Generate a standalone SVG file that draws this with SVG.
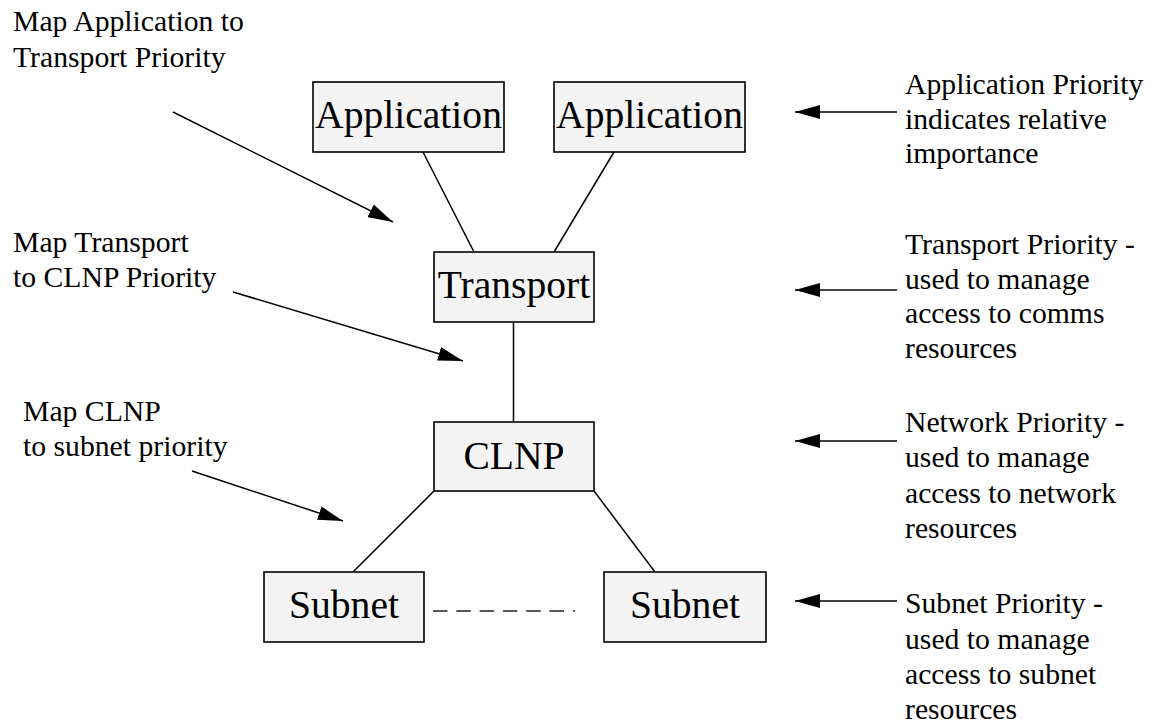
<svg xmlns="http://www.w3.org/2000/svg" width="1155" height="724" viewBox="0 0 1155 724">
<style>
.box{fill:#f4f4f4;stroke:#000;stroke-width:1.6}
.nt{font-family:"Liberation Serif","Times New Roman",serif;font-size:39.6px;fill:#000;text-anchor:middle}
.lb{font-family:"Liberation Serif","Times New Roman",serif;font-size:29.7px;fill:#000}
.ln{stroke:#000;stroke-width:1.5;fill:none}
.ar{stroke:#000;stroke-width:1.5;fill:none;marker-end:url(#ah)}
.dash{stroke:#222;stroke-width:1.4;fill:none;stroke-dasharray:14.5 8.8}
</style>
<defs>
<marker id="ah" viewBox="0 0 25 14" refX="25" refY="7" markerWidth="25" markerHeight="14" markerUnits="userSpaceOnUse" orient="auto">
<path d="M0,0 L25,7 L0,14 z" fill="#000"/>
</marker>
</defs>
<rect width="1155" height="724" fill="#fff"/>
<g id="connectors">
<line class="ln" x1="423" y1="152" x2="474" y2="252"/>
<line class="ln" x1="614" y1="152" x2="554" y2="252"/>
<line class="ln" x1="513.5" y1="322" x2="513.5" y2="423"/>
<line class="ln" x1="434" y1="491" x2="353" y2="572"/>
<line class="ln" x1="594" y1="491" x2="655" y2="572"/>
<path class="dash" d="M433,611 H565 M573,611 H575"/>
<line class="ar" x1="173" y1="112" x2="393" y2="222"/>
<line class="ar" x1="233" y1="292" x2="463" y2="361"/>
<line class="ar" x1="192" y1="471" x2="343" y2="521"/>
<line class="ar" x1="897" y1="112" x2="795" y2="112"/>
<line class="ar" x1="897" y1="290" x2="795" y2="290"/>
<line class="ar" x1="897" y1="441" x2="795" y2="441"/>
<line class="ar" x1="897" y1="601" x2="795" y2="601"/>
</g>
<g id="app1"><rect class="box" x="313" y="82" width="191" height="70"/><text class="nt" x="408.5" y="128">Application</text></g>
<g id="app2"><rect class="box" x="554" y="82" width="191" height="70"/><text class="nt" x="649.5" y="128">Application</text></g>
<g id="transport"><rect class="box" x="434" y="252" width="160" height="70"/><text class="nt" x="514" y="298">Transport</text></g>
<g id="clnp"><rect class="box" x="434" y="422" width="160" height="69"/><text class="nt" x="514" y="469">CLNP</text></g>
<g id="subnet1"><rect class="box" x="264" y="572" width="160" height="70"/><text class="nt" x="344" y="618">Subnet</text></g>
<g id="subnet2"><rect class="box" x="604" y="572" width="162" height="70"/><text class="nt" x="685" y="618">Subnet</text></g>
<g id="labels-left">
<text class="lb" x="13" y="31">Map Application to</text>
<text class="lb" x="13" y="67">Transport Priority</text>
<text class="lb" x="13" y="252">Map Transport</text>
<text class="lb" x="13" y="287">to CLNP Priority</text>
<text class="lb" x="23" y="421">Map CLNP</text>
<text class="lb" x="23" y="456">to subnet priority</text>
</g>
<g id="labels-right">
<text class="lb" x="905" y="94">Application Priority</text>
<text class="lb" x="905" y="129">indicates relative</text>
<text class="lb" x="905" y="163">importance</text>
<text class="lb" x="905" y="254">Transport Priority -</text>
<text class="lb" x="905" y="289">used to manage</text>
<text class="lb" x="905" y="323">access to comms</text>
<text class="lb" x="905" y="358">resources</text>
<text class="lb" x="905" y="432">Network Priority -</text>
<text class="lb" x="905" y="467">used to manage</text>
<text class="lb" x="905" y="503">access to network</text>
<text class="lb" x="905" y="538">resources</text>
<text class="lb" x="905" y="613">Subnet Priority -</text>
<text class="lb" x="905" y="649">used to manage</text>
<text class="lb" x="905" y="684">access to subnet</text>
<text class="lb" x="905" y="719">resources</text>
</g>
</svg>
